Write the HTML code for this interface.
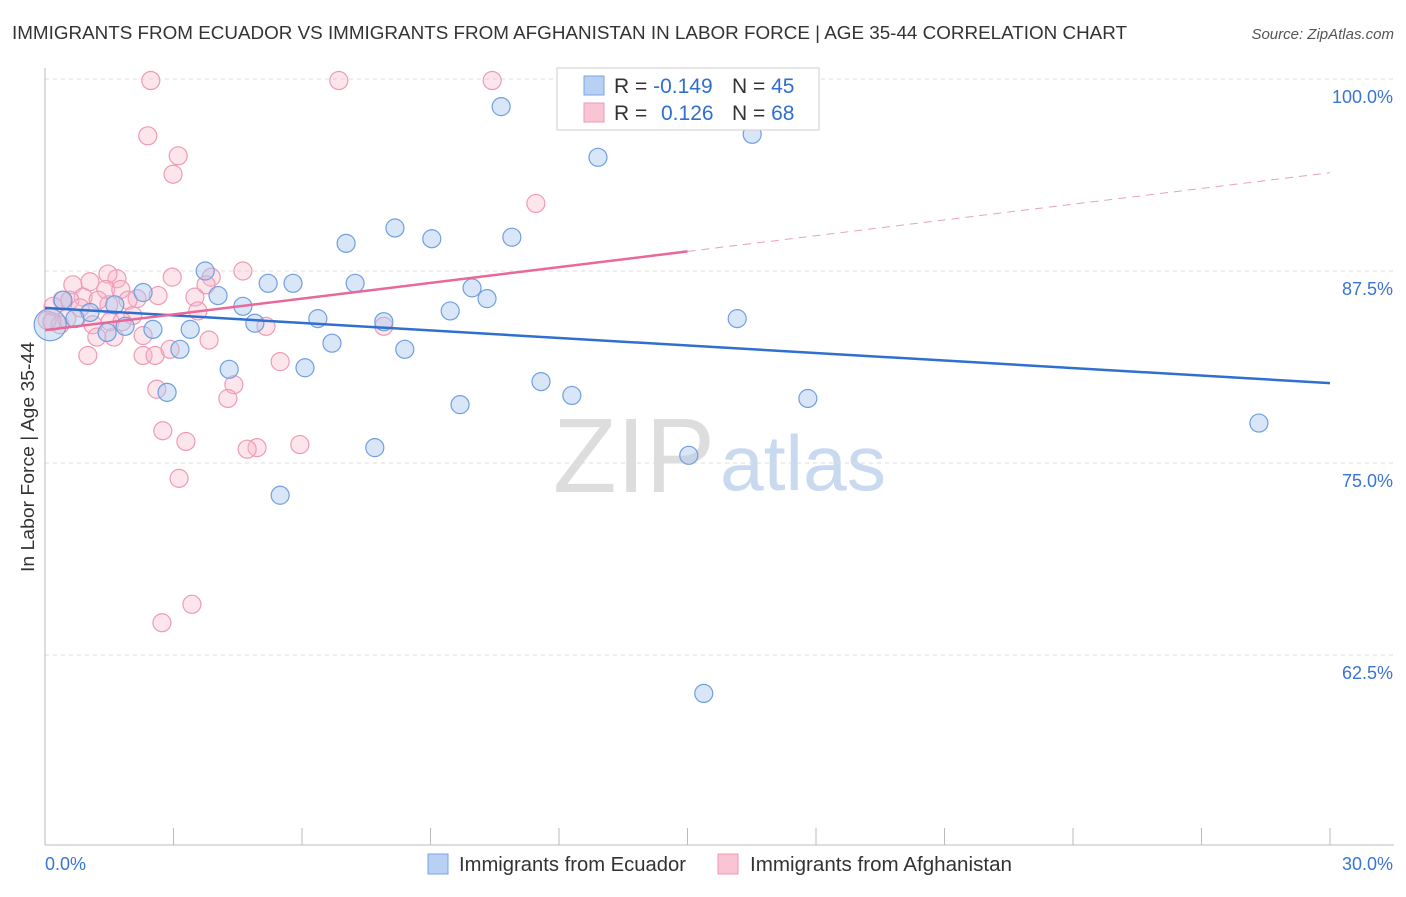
<!DOCTYPE html>
<html><head><meta charset="utf-8"><style>
body{margin:0;background:#fff;font-family:"Liberation Sans",sans-serif}
svg text{font-family:"Liberation Sans",sans-serif}
</style></head><body>
<svg id="chart" width="1406" height="892" xmlns="http://www.w3.org/2000/svg">
<text x="12" y="39" font-size="18" fill="#333" textLength="1115" lengthAdjust="spacingAndGlyphs">IMMIGRANTS FROM ECUADOR VS IMMIGRANTS FROM AFGHANISTAN IN LABOR FORCE | AGE 35-44 CORRELATION CHART</text>
<text x="1394" y="39" font-size="15" fill="#555" font-style="italic" text-anchor="end">Source: ZipAtlas.com</text>
<text x="553" y="492" font-size="106" fill="#ddd" font-family="Liberation Serif" textLength="162" lengthAdjust="spacingAndGlyphs">ZIP</text>
<text x="720" y="490" font-size="78" fill="#c9d9ef" textLength="166" lengthAdjust="spacingAndGlyphs">atlas</text>
<text transform="translate(34,457) rotate(-90)" font-size="18" fill="#333" text-anchor="middle" textLength="230" lengthAdjust="spacingAndGlyphs">In Labor Force | Age 35-44</text>
<g id="grid"></g><g id="pts"></g><g id="lines"></g>
<g>
<rect x="557" y="68" width="262" height="62" fill="#fff" stroke="#ccc"/>
<rect x="584" y="76" width="20" height="19" fill="#b8d0f4" stroke="#7aa5e0"/>
<rect x="584" y="103" width="20" height="19" fill="#f9c4d4" stroke="#ee9ab5"/>
<text x="614" y="93" font-size="21" fill="#333">R = <tspan fill="#2f6fd0">-0.149</tspan></text>
<text x="732" y="93" font-size="21" fill="#333">N = <tspan fill="#2f6fd0">45</tspan></text>
<text x="614" y="120" font-size="21" fill="#333">R = <tspan fill="#2f6fd0" x="661">0.126</tspan></text>
<text x="732" y="120" font-size="21" fill="#333">N = <tspan fill="#2f6fd0">68</tspan></text>
</g>
<g>
<rect x="428" y="854" width="20" height="20" fill="#b8d0f4" stroke="#7aa5e0"/>
<text x="459" y="871" font-size="20" fill="#333" textLength="227" lengthAdjust="spacingAndGlyphs">Immigrants from Ecuador</text>
<rect x="718" y="854" width="20" height="20" fill="#f9c4d4" stroke="#ee9ab5"/>
<text x="750" y="871" font-size="20" fill="#333" textLength="262" lengthAdjust="spacingAndGlyphs">Immigrants from Afghanistan</text>
</g>
</svg>
<script>
const blueX=[10.65,12.91,16.51,8.17,7.03,9.03,10.90,3.74,5.21,5.79,7.24,9.97,10.32,2.29,4.04,4.62,9.46,6.37,4.90,7.91,16.16,0.42,1.05,1.63,2.52,3.39,1.87,1.45,3.15,6.70,8.40,4.30,6.07,2.85,11.58,12.30,9.69,17.81,28.34,7.70,15.03,5.49,15.38,0.12,0.70];
const blueY=[98.2,94.9,96.4,90.3,89.3,89.6,89.7,87.5,86.7,86.7,86.7,86.4,85.7,86.1,85.9,85.2,84.9,84.4,84.1,84.2,84.4,85.6,84.8,85.3,83.7,83.7,83.9,83.5,82.4,82.8,82.4,81.1,81.2,79.6,80.3,79.4,78.8,79.2,77.6,76.0,75.5,72.9,60.0,84.0,84.4];
const pinkX=[2.47,6.86,10.44,2.40,3.11,2.99,11.46,4.62,3.88,2.97,3.76,1.68,1.47,1.05,0.65,1.42,1.77,2.64,3.50,2.15,0.89,0.40,0.19,1.49,1.94,1.24,3.57,2.05,1.52,1.80,1.12,0.35,0.51,5.16,7.91,1.21,1.61,2.29,3.83,1.00,2.29,2.57,2.92,5.49,4.41,2.61,4.27,2.75,3.29,5.95,4.95,4.72,3.13,3.43,2.73,0.05,0.16,0.58,0.82];
const pinkY=[99.9,99.9,99.9,96.3,95.0,93.8,91.9,87.5,87.1,87.1,86.6,87.0,87.3,86.8,86.6,86.3,86.3,85.9,85.8,85.7,85.8,85.6,85.2,85.3,85.6,85.6,84.9,84.6,84.2,84.2,84.0,84.0,84.4,83.9,83.9,83.2,83.2,83.3,83.0,82.0,82.0,82.0,82.4,81.6,80.1,79.8,79.2,77.1,76.4,76.2,76.0,75.9,74.0,65.8,64.6,84.3,84.2,85.6,85.1];
const yTicks=[100,87.5,75,62.5];
const yTickLabels=["100.0%","87.5%","75.0%","62.5%"];
const xTicks=[0,3,6,9,12,15,18,21,24,27,30];
const blueTrend=[85.1,80.2];
const pinkTrend=[83.65,93.9];
const NS="http://www.w3.org/2000/svg";
const X=v=>45+v/30*1285, Y=v=>79+(100-v)*15.36;
function mk(t,a,p){const e=document.createElementNS(NS,t);for(const k in a)e.setAttribute(k,a[k]);p.appendChild(e);return e;}
const g=document.getElementById('grid');
yTicks.forEach((t,i)=>{
 const l=mk('line',{x1:45,x2:1394,y1:Y(t),y2:Y(t),stroke:'#ddd','stroke-dasharray':'4,4'},g);
 
 
 const tx=mk('text',{x:1393,y:Y(t)+24,'font-size':18,fill:'#3a74d4','text-anchor':'end'},g);tx.textContent=yTickLabels[i];
 
 
});
mk('line',{x1:45,x2:45,y1:68,y2:845,stroke:'#bbb'},g);
mk('line',{x1:45,x2:1394,y1:845,y2:845,stroke:'#bbb'},g);
xTicks.forEach(t=>{const l=mk('line',{x1:X(t),x2:X(t),y1:828,y2:845,stroke:'#bbb'},g);
 
 });
let a=mk('text',{x:45,y:870,'font-size':18,fill:'#3a74d4'},g);a.textContent='0.0%';


a=mk('text',{x:1393,y:870,'font-size':18,fill:'#3a74d4','text-anchor':'end'},g);a.textContent='30.0%';


const p=document.getElementById('pts');
pinkX.forEach((x,i)=>{const c=mk('circle',{cx:X(x),cy:Y(pinkY[i]),r:9,fill:'rgba(248,180,200,0.35)',stroke:'#ef9ab4','stroke-width':1.2},p);
 
 });
blueX.forEach((x,i)=>{const c=mk('circle',{cx:X(x),cy:Y(blueY[i]),r:i==43?16:9,fill:'rgba(170,200,240,0.45)',stroke:'#6f9fe0','stroke-width':1.2},p);
 
 });
const L=document.getElementById('lines');
let t=mk('line',{x1:X(0),y1:Y(blueTrend[0]),x2:X(30),y2:Y(blueTrend[1]),stroke:'#2f6fd0','stroke-width':2.5},L);


const pm=pinkTrend[0]+(pinkTrend[1]-pinkTrend[0])/2;
t=mk('line',{x1:X(0),y1:Y(pinkTrend[0]),x2:X(15),y2:Y(pm),stroke:'#e8689a','stroke-width':2.5},L);


t=mk('line',{x1:X(15),y1:Y(pm),x2:X(30),y2:Y(pinkTrend[1]),stroke:'#e8a0bc','stroke-width':1,'stroke-dasharray':'8,6'},L);


</script>
</body></html>
